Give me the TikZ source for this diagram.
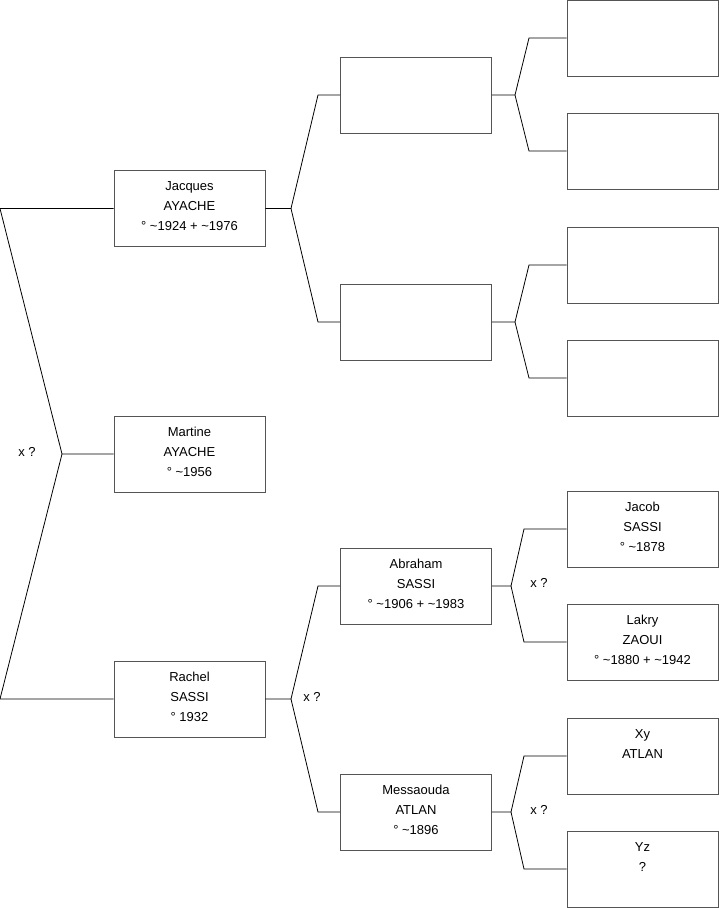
\documentclass[tikz,border=0pt]{standalone}
\usepackage{fontspec}
\setmainfont{Liberation Sans}
\usepackage{xcolor}
\usetikzlibrary{positioning}
\definecolor{bord}{HTML}{555555}
\newcommand{\perso}[1]{\parbox[c][76pt][t]{151pt}{\centering\fontsize{13}{20}\selectfont\vspace*{11.5pt}#1\par}}

\begin{document}
\begin{tikzpicture}[
    x=1pt, y=-1pt,
    fiche/.style={draw=bord, line width=0.9pt, inner sep=0pt, minimum width=151pt, minimum height=76pt},
    lien/.style={draw=black, line width=0.8pt},
    xq/.style={font=\fontsize{13}{14}\selectfont, inner sep=0pt}
]
\useasboundingbox (0,0) rectangle (719,908);

% generation 1
\node[fiche] (jacques) at (189.5,208.5) {\perso{Jacques\\AYACHE\\° \textasciitilde1924 + \textasciitilde1976}};
\node[fiche] (martine) at (189.5,454) {\perso{Martine\\AYACHE\\° \textasciitilde1956}};
\node[fiche] (rachel) at (189.5,699) {\perso{Rachel\\SASSI\\° 1932}};

% generation 2
\node[fiche] (pereJ) at (416,95) {\perso{}};
\node[fiche] (mereJ) at (416,322) {\perso{}};
\node[fiche] (abraham) at (416,586) {\perso{Abraham\\SASSI\\° \textasciitilde1906 + \textasciitilde1983}};
\node[fiche] (messaouda) at (416,812) {\perso{Messaouda\\ATLAN\\° \textasciitilde1896}};

% generation 3
\node[fiche] (gp1) at (642.5,38) {\perso{}};
\node[fiche] (gp2) at (642.5,151) {\perso{}};
\node[fiche] (gp3) at (642.5,265) {\perso{}};
\node[fiche] (gp4) at (642.5,378) {\perso{}};
\node[fiche] (jacob) at (642.5,529) {\perso{Jacob\\SASSI\\° \textasciitilde1878}};
\node[fiche] (lakry) at (642.5,642) {\perso{Lakry\\ZAOUI\\° \textasciitilde1880 + \textasciitilde1942}};
\node[fiche] (xy) at (642.5,756) {\perso{Xy\\ATLAN}};
\node[fiche] (yz) at (642.5,869) {\perso{Yz\\?}};

% liens martine
\coordinate (j0) at (62,454);
\coordinate (j0h) at (jacques.west -| 0,0);
\coordinate (j0b) at (rachel.west -| 0,0);
\draw[lien] (martine.west) -- (j0) -- (j0h) -- (jacques.west);
\draw[lien] (j0) -- (j0b) -- (rachel.west);
\node[xq] (xq0) at (27,452) {x ?};

% liens jacques
\coordinate (j1) at (291,208.5);
\coordinate (j1h) at (pereJ.west -| 318,0);
\coordinate (j1b) at (mereJ.west -| 318,0);
\draw[lien] (jacques.east) -- (j1) -- (j1h) -- (pereJ.west);
\draw[lien] (j1) -- (j1b) -- (mereJ.west);

% liens rachel
\coordinate (j2) at (291,699);
\coordinate (j2h) at (abraham.west -| 318,0);
\coordinate (j2b) at (messaouda.west -| 318,0);
\draw[lien] (rachel.east) -- (j2) -- (j2h) -- (abraham.west);
\draw[lien] (j2) -- (j2b) -- (messaouda.west);
\node[xq] (xq2) at (312,697) {x ?};

% generation 3
\coordinate (j3) at (515,95);
\draw[lien] (pereJ.east) -- (j3) -- (gp1.west -| 529,0) -- (gp1.west);
\draw[lien] (j3) -- (gp2.west -| 529,0) -- (gp2.west);
\coordinate (j4) at (515,322);
\draw[lien] (mereJ.east) -- (j4) -- (gp3.west -| 529,0) -- (gp3.west);
\draw[lien] (j4) -- (gp4.west -| 529,0) -- (gp4.west);
\coordinate (j5) at (511,586);
\draw[lien] (abraham.east) -- (j5) -- (jacob.west -| 524,0) -- (jacob.west);
\draw[lien] (j5) -- (lakry.west -| 524,0) -- (lakry.west);
\node[xq] (xq5) at (539,583) {x ?};
\coordinate (j6) at (511,812);
\draw[lien] (messaouda.east) -- (j6) -- (xy.west -| 524,0) -- (xy.west);
\draw[lien] (j6) -- (yz.west -| 524,0) -- (yz.west);
\node[xq] (xq6) at (539,810) {x ?};
\end{tikzpicture}
\end{document}
